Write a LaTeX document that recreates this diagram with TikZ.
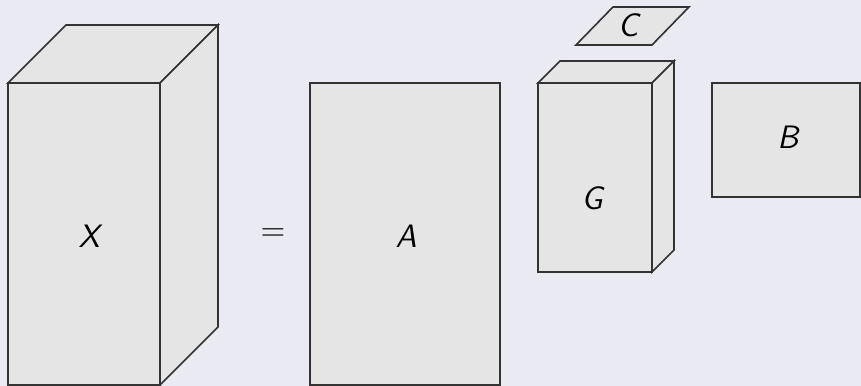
\documentclass[tikz,border=0pt]{standalone}
\definecolor{bgcol}{HTML}{EAEAF2}
\definecolor{facecol}{HTML}{E5E5E5}
\tikzset{
  face/.style={draw=black!80,fill=facecol,line width=0.6pt,line join=miter},
  lbl/.style={font=\sffamily\itshape\large,inner sep=0pt}
}
\begin{document}
\begin{tikzpicture}[x=0.37pt,y=-0.37pt]
  \fill[bgcol] (0,0) rectangle (861,386);
  \useasboundingbox (0,0) rectangle (861,386);
  % boxes for X and G: corner, width, height, depth
  \foreach \bx/\by/\bw/\bh/\bd in {8/83/152/302/58, 538/83/114/189/22} {
    \filldraw[face] (\bx,\by) -- ++(\bd,-\bd) -- ++(\bw,0) -- ++(-\bd,\bd) -- cycle;
    \filldraw[face] (\bx+\bw,\by) -- ++(\bd,-\bd) -- ++(0,\bh) -- ++(-\bd,\bd) -- cycle;
    \filldraw[face] (\bx,\by) rectangle ++(\bw,\bh);
  }
  \filldraw[face] (310,83) rectangle (500,385);
  \filldraw[face] (712,83) rectangle (860,197);
  \filldraw[face] (576,45) -- (613,7) -- (689,7) -- (652,45) -- cycle;
  \node[lbl] (X) at (89,236) {X};
  \node[lbl,font=\sffamily\large] (eq) at (273,235) {=};
  \node[lbl] (A) at (406,236) {A};
  \node[lbl] (G) at (592,198) {G};
  \node[lbl] (B) at (788,137) {B};
  \node[lbl] (C) at (628,25) {C};
\end{tikzpicture}
\end{document}
